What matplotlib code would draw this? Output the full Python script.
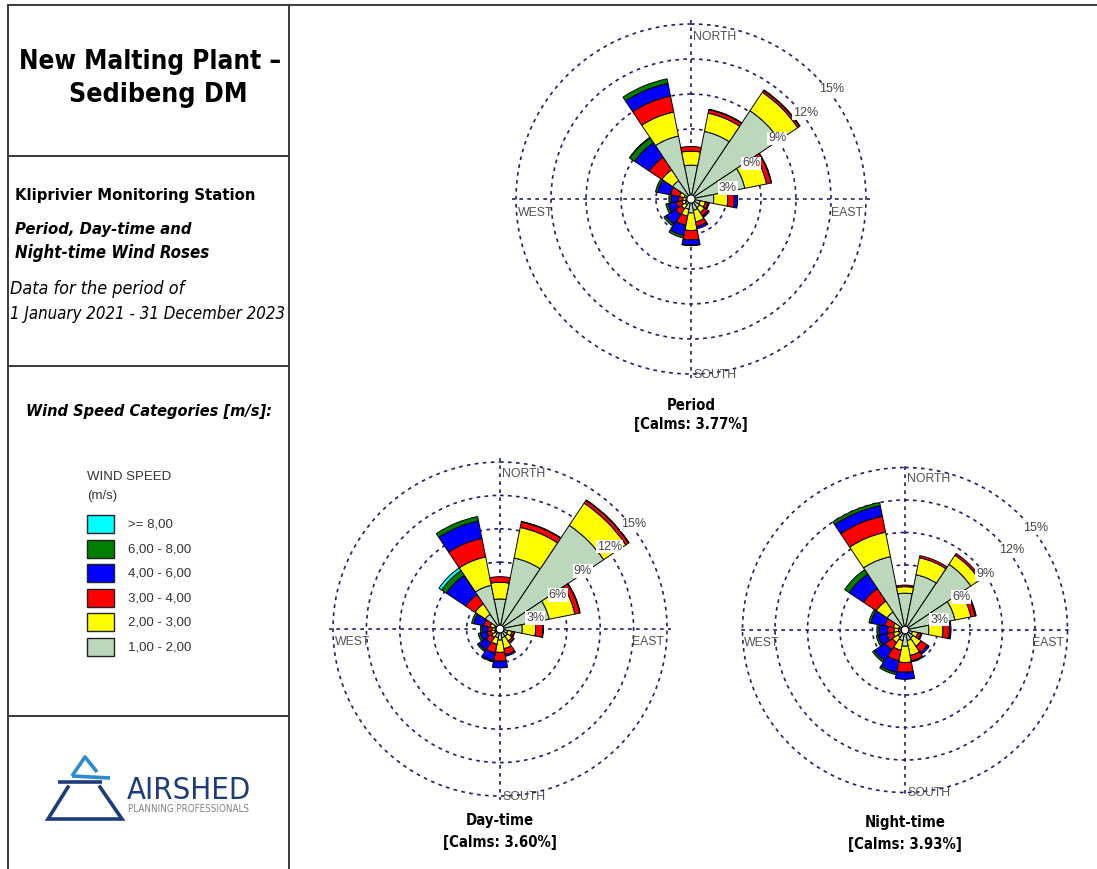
import os
import glob
import numpy as np
import matplotlib
matplotlib.use("Agg")
import matplotlib.pyplot as plt
from matplotlib import font_manager
from matplotlib.font_manager import FontProperties
from matplotlib.patches import Rectangle

# ---------------- data ----------------
directions = ["N", "NNE", "NE", "ENE", "E", "ESE", "SE", "SSE",
              "S", "SSW", "SW", "WSW", "W", "WNW", "NW", "NNW"]

speed_classes = ["1,00 - 2,00", "2,00 - 3,00", "3,00 - 4,00",
                 "4,00 - 6,00", "6,00 - 8,00", ">= 8,00"]
speed_colors = ["#bcd8bc", "#ffff00", "#ff0000", "#0000ff", "#007f00", "#00ffff"]

# frequencies (%) per direction for each wind-speed class
period_1_2 = [2.9, 5.9, 9.1, 4.7, 1.95, 0.8, 0.9, 1.0, 1.2, 0.9, 0.6, 0.5, 0.4, 0.6, 1.9, 5.5]
period_2_3 = [1.2, 1.6, 1.9, 1.9, 1.2, 0.45, 0.5, 1.0, 1.5, 0.6, 0.4, 0.3, 0.3, 0.4, 1.1, 2.1]
period_3_4 = [0.4, 0.3, 0.2, 0.4, 0.55, 0.25, 0.35, 0.4, 0.8, 0.8, 0.6, 0.5, 0.4, 0.8, 1.3, 1.4]
period_4_6 = [0.0, 0.05, 0.05, 0.05, 0.3, 0.1, 0.15, 0.2, 0.45, 0.9, 1.0, 0.7, 0.6, 1.1, 1.5, 1.1]
period_6_8 = [0, 0, 0, 0, 0, 0, 0, 0, 0.05, 0.2, 0.2, 0.2, 0.2, 0.2, 0.5, 0.4]
period_8p = [0, 0, 0, 0, 0, 0, 0, 0, 0, 0, 0, 0, 0, 0, 0.05, 0]

day_1_2 = [2.7, 6.5, 11.2, 4.5, 2.0, 0.7, 0.8, 0.8, 1.0, 0.8, 0.5, 0.5, 0.4, 0.5, 1.6, 4.0]
day_2_3 = [1.5, 2.8, 2.4, 2.35, 1.2, 0.4, 0.5, 1.0, 1.1, 0.6, 0.4, 0.3, 0.3, 0.4, 1.1, 2.6]
day_3_4 = [0.5, 0.5, 0.3, 0.45, 0.65, 0.2, 0.2, 0.55, 0.8, 0.8, 0.6, 0.4, 0.4, 0.6, 1.0, 1.7]
day_4_6 = [0, 0.05, 0.05, 0.05, 0.05, 0.05, 0.05, 0.15, 0.6, 0.7, 0.8, 0.6, 0.5, 0.9, 2.1, 1.6]
day_6_8 = [0, 0, 0, 0, 0, 0, 0, 0, 0, 0.1, 0.15, 0.2, 0.15, 0.2, 0.5, 0.4]
day_8p = [0, 0, 0, 0, 0, 0, 0, 0, 0, 0, 0, 0, 0, 0, 0.3, 0]

night_1_2 = [3.4, 5.2, 7.3, 4.7, 2.2, 0.7, 0.9, 1.0, 1.5, 1.0, 0.8, 0.6, 0.6, 0.6, 2.0, 6.9]
night_2_3 = [0.6, 1.6, 1.0, 1.5, 1.3, 0.5, 0.9, 1.4, 1.5, 0.9, 0.6, 0.5, 0.4, 0.5, 1.2, 2.3]
night_3_4 = [0.15, 0.2, 0.2, 0.4, 0.6, 0.3, 0.7, 0.5, 0.9, 1.0, 0.8, 0.6, 0.6, 0.8, 1.4, 1.5]
night_4_6 = [0, 0, 0, 0.1, 0.15, 0.1, 0.2, 0.1, 0.65, 1.1, 1.2, 0.8, 0.8, 1.3, 1.6, 1.0]
night_6_8 = [0, 0, 0, 0, 0, 0, 0, 0, 0, 0.2, 0.2, 0.2, 0.2, 0.2, 0.5, 0.3]
night_8p = [0, 0, 0, 0, 0, 0, 0, 0, 0, 0, 0, 0, 0, 0, 0, 0]

rose_titles = ["Period", "Day-time", "Night-time"]
calms = [3.77, 3.60, 3.93]
rings = [3, 6, 9, 12, 15]

# ---------------- fonts ----------------
_paths = [f.fname for f in font_manager.fontManager.ttflist]


def find_file(basenames):
    for b in basenames:
        for p in _paths:
            if os.path.basename(p).lower() == b.lower():
                return p
    for b in basenames:
        hits = glob.glob("/usr/share/fonts/**/" + b, recursive=True)
        if hits:
            return hits[0]
    return None


NARROW_FILES = {
    "reg": find_file(["LiberationSansNarrow-Regular.ttf", "DejaVuSansCondensed.ttf"]),
    "bold": find_file(["LiberationSansNarrow-Bold.ttf", "DejaVuSansCondensed-Bold.ttf"]),
    "italic": find_file(["LiberationSansNarrow-Italic.ttf", "DejaVuSansCondensed-Oblique.ttf"]),
    "bolditalic": find_file(["LiberationSansNarrow-BoldItalic.ttf",
                             "DejaVuSansCondensed-BoldOblique.ttf"]),
}
ROLE_STYLE = {"reg": ("normal", "normal"), "bold": ("normal", "bold"),
              "italic": ("italic", "normal"), "bolditalic": ("italic", "bold")}


def make_fp(role, size):
    f = NARROW_FILES.get(role)
    if f:
        return FontProperties(fname=f, size=size)
    st, wt = ROLE_STYLE[role]
    return FontProperties(family="Liberation Sans", style=st, weight=wt, size=size)


REG = "Liberation Sans"

W, H = 1097, 869
fig = plt.figure(figsize=(W / 100, H / 100), dpi=100)
fig.patch.set_facecolor("white")
renderer = fig.canvas.get_renderer()

# overlay axes in pixel coordinates
ov = fig.add_axes([0, 0, 1, 1], zorder=0)
ov.set_xlim(0, W)
ov.set_ylim(H, 0)
ov.axis("off")


def put(x, y, s, size, target=None, role="reg", **kw):
    t = ov.text(x, y, s, fontproperties=make_fp(role, size), **kw)
    if target:
        w = t.get_window_extent(renderer).width
        new = size * target / w
        t.set_fontsize(min(new, size * 1.1))
    return t


lc = "#3a3a3a"
lw = 1.4
ov.plot([8, W], [5, 5], color=lc, lw=lw)
ov.plot([8, 8], [5, H], color=lc, lw=lw)
ov.plot([289, 289], [5, H], color=lc, lw=lw)
for yy in [156, 366, 716]:
    ov.plot([8, 289], [yy, yy], color=lc, lw=lw)

put(150, 69, "New Malting Plant \u2013", 23, 262, "bold", ha="center", va="baseline")
put(158, 102, "Sedibeng DM", 23, 178, "bold", ha="center", va="baseline")
put(15, 200, "Kliprivier Monitoring Station", 14.5, 238, "bold", ha="left", va="baseline")
put(15, 234, "Period, Day-time and", 14.5, 176, "bolditalic", ha="left", va="baseline")
put(15, 258, "Night-time Wind Roses", 14.5, 194, "bolditalic", ha="left", va="baseline")
put(10, 294, "Data for the period of", 14.5, 175, "italic", ha="left", va="baseline")
put(10, 319, "1 January 2021 - 31 December 2023", 14.5, 274, "italic", ha="left", va="baseline")
put(149, 416, "Wind Speed Categories [m/s]:", 14.5, 245, "bolditalic", ha="center", va="baseline")

# legend
ov.text(87, 480, "WIND SPEED", family=REG, fontsize=9.5, color="#333333", ha="left", va="baseline")
ov.text(87, 499, "(m/s)", family=REG, fontsize=9.5, color="#333333", ha="left", va="baseline")
for i, (lab, col) in enumerate(zip(speed_classes[::-1], speed_colors[::-1])):
    y0 = 515 + i * 24.6
    ov.add_patch(Rectangle((87, y0), 27, 18, facecolor=col, edgecolor="#222222", lw=1.0))
    ov.text(128, y0 + 9.5, lab, family=REG, fontsize=9.5, color="#333333", ha="left", va="center")

# logo
navy = "#1d3c7a"
lblue = "#2b8ad0"
ov.plot([72, 85, 97], [776, 757, 772], color=lblue, lw=2.6, solid_capstyle="butt")
ov.plot([72, 110], [776, 778], color=lblue, lw=2.6, solid_capstyle="butt")
ov.plot([58, 102], [782, 782], color=navy, lw=2.6, solid_capstyle="butt")
ov.plot([68, 48, 122, 100], [787, 819, 819, 787], color=navy, lw=2.6, solid_joinstyle="miter")
put(127, 799, "AIRSHED", 23.5, 124, "reg", color=navy, ha="left", va="baseline")
put(128, 812, "PLANNING PROFESSIONALS", 7.6, 119, "reg", color="#808080", ha="left", va="baseline")

# ---------------- wind roses ----------------
roses = [
    dict(c=(691, 199), s=175 / 15, t=(691, 405, 425),
         segs=[period_1_2, period_2_3, period_3_4, period_4_6, period_6_8, period_8p]),
    dict(c=(500, 629), s=167 / 15, t=(500, 820, 842),
         segs=[day_1_2, day_2_3, day_3_4, day_4_6, day_6_8, day_8p]),
    dict(c=(905, 630), s=162.5 / 15, t=(905, 822, 845),
         segs=[night_1_2, night_2_3, night_3_4, night_4_6, night_6_8, night_8p]),
]

grid_col = "#1e1e70"
RMAX = 15.35
theta = np.deg2rad(np.arange(len(directions)) * 22.5)
width = np.deg2rad(22.5)

pct_pos = {3: (73, 3.3), 6: (59.5, 6.0), 9: (55, 9.05), 12: (53, 12.3), 15: (52, 15.25)}


def cart_to_polar(x, y):
    return np.arctan2(x, y), np.hypot(x, y)


for k, rd in enumerate(roses):
    cx, cy = rd["c"]
    s = rd["s"]
    R = RMAX * s
    ax = fig.add_axes([(cx - R) / W, (H - cy - R) / H, 2 * R / W, 2 * R / H],
                      projection="polar", zorder=2)
    ax.set_theta_zero_location("N")
    ax.set_theta_direction(-1)
    ax.set_ylim(0, RMAX)
    ax.set_facecolor("none")
    ax.spines["polar"].set_visible(False)
    ax.set_axisbelow(True)
    ax.set_rgrids(rings, labels=[""] * len(rings))
    ax.set_thetagrids([0, 90, 180, 270], labels=[""] * 4)
    ax.grid(True, color=grid_col, linestyle=(0, (2.2, 2.6)), linewidth=1.2)
    ax.tick_params(length=0)

    bottom = np.zeros(len(directions))
    for vals, col in zip(rd["segs"], speed_colors):
        vals = np.asarray(vals, dtype=float)
        m = vals > 0
        ax.bar(theta[m], vals[m], width=width, bottom=bottom[m], color=col,
               edgecolor="black", linewidth=0.7, align="center", zorder=2)
        bottom = bottom + vals

    tt = np.linspace(0, 2 * np.pi, 100)
    ax.fill(tt, np.full_like(tt, 0.35), facecolor="white", edgecolor="black", lw=0.8, zorder=3)

    for rv in rings:
        a, r = pct_pos[rv]
        ax.text(np.deg2rad(a), r, f"{rv}%", family=REG, fontsize=9, color="#444444",
                ha="center", va="center", zorder=5,
                bbox=dict(facecolor="white", edgecolor="none", pad=0.6))

    lab_kw = dict(family=REG, fontsize=8.8, color="#505050", va="center", zorder=4)
    ax.text(*cart_to_polar(0.2, 13.9), "NORTH", ha="left", **lab_kw)
    ax.text(*cart_to_polar(-14.85, -1.2), "WEST", ha="left", **lab_kw)
    ax.text(*cart_to_polar(14.7, -1.2), "EAST", ha="right", **lab_kw)
    ax.text(*cart_to_polar(0.2, -15.05), "SOUTH", ha="left", clip_on=True, **lab_kw)

    tx, ty1, ty2 = rd["t"]
    tcal = put(tx, ty2, f"[Calms: {calms[k]:.2f}%]", 12.5, 114, "bold", ha="center", va="center")
    put(tx, ty1, rose_titles[k], tcal.get_fontsize(), None, "bold", ha="center", va="center")

fig.savefig("out.png", dpi=100, facecolor="white")
